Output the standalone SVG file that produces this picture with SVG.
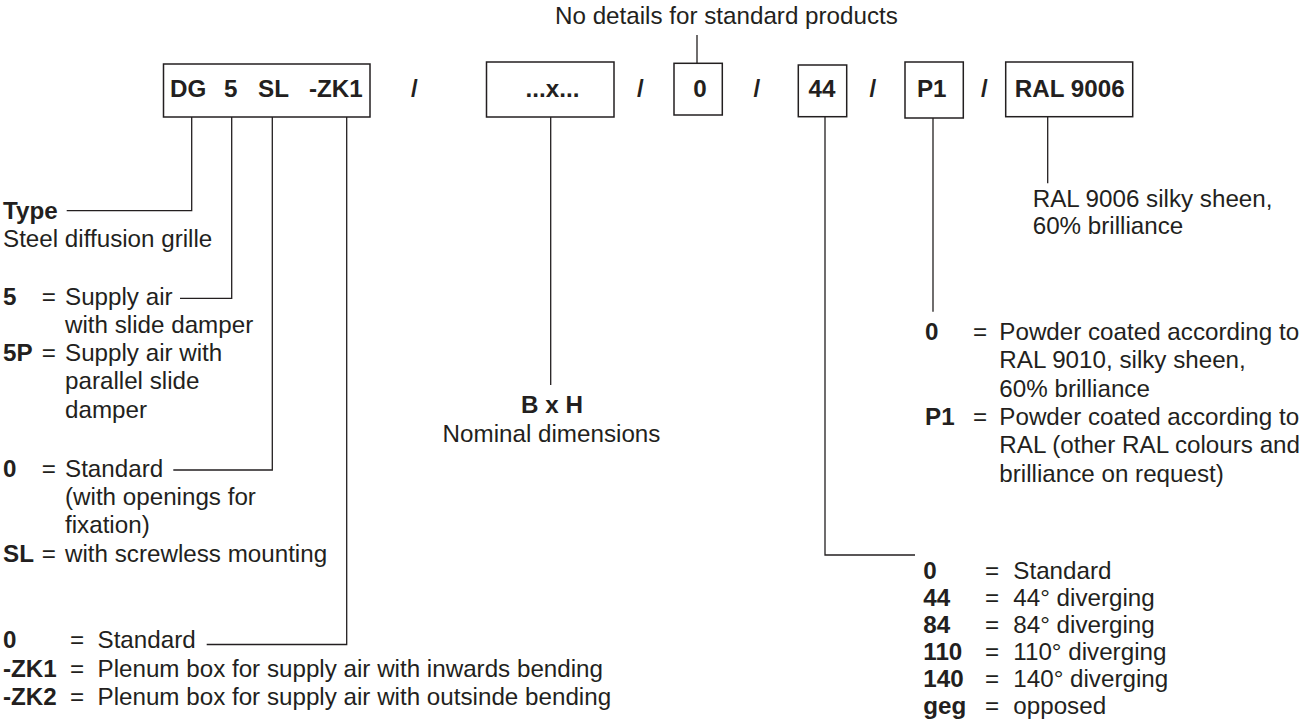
<svg xmlns="http://www.w3.org/2000/svg" width="1302" height="720" viewBox="0 0 1302 720">
<style>
text{font-family:"Liberation Sans",Arial,Helvetica,sans-serif;font-size:24.2px;fill:#231f20}
.b{font-weight:bold}
.m{text-anchor:middle}
.box{fill:#fff;stroke:#231f20;stroke-width:1.5}
.ln{fill:none;stroke:#231f20;stroke-width:1.3}
</style>
<rect width="1302" height="720" fill="#fff"/>
<g id="connectors">
<polyline class="ln" points="191.7,117 191.7,210.7 66.7,210.7"/>
<polyline class="ln" points="231.7,117 231.7,298.3 180,298.3"/>
<polyline class="ln" points="272.3,117 272.3,470 173.3,470"/>
<polyline class="ln" points="346.7,117 346.7,644.5 206.7,644.5"/>
<line class="ln" x1="550.7" y1="117" x2="550.7" y2="385"/>
<line class="ln" x1="697" y1="35" x2="697" y2="63"/>
<polyline class="ln" points="825,117 825,555 915,555"/>
<line class="ln" x1="933" y1="118" x2="933" y2="311.7"/>
<line class="ln" x1="1047.7" y1="117" x2="1047.7" y2="183.3"/>
</g>
<g id="code-type">
<rect class="box" x="163.5" y="64" width="206.5" height="53"/>
<text class="b" x="170" y="96.7">DG</text>
<text class="b" x="224" y="96.7">5</text>
<text class="b" x="258" y="96.7">SL</text>
<text class="b" x="309" y="96.7">-ZK1</text>
</g>
<text class="b" x="411" y="96.7">/</text>
<g id="code-size">
<rect class="box" x="486.5" y="62" width="127.5" height="55"/>
<text class="b m" x="552.5" y="96.7">...x...</text>
</g>
<text class="b" x="637" y="96.7">/</text>
<g id="code-zero">
<rect class="box" x="674" y="63.3" width="48.3" height="51.7"/>
<text class="b m" x="700" y="96.7">0</text>
</g>
<text class="b" x="753.5" y="96.7">/</text>
<g id="code-44">
<rect class="box" x="798.3" y="65" width="48.4" height="51.7"/>
<text class="b m" x="822" y="96.7">44</text>
</g>
<text class="b" x="869.5" y="96.7">/</text>
<g id="code-p1">
<rect class="box" x="905" y="62" width="58.3" height="56"/>
<text class="b m" x="931.7" y="96.7">P1</text>
</g>
<text class="b" x="981" y="96.7">/</text>
<g id="code-ral">
<rect class="box" x="1005.7" y="62" width="127" height="54.7"/>
<text class="b m" x="1069.7" y="96.7">RAL 9006</text>
</g>
<g id="note-standard">
<text x="555" y="23.5">No details for standard products</text>
</g>
<g id="desc-type">
<text class="b" x="3" y="219.3">Type</text>
<text x="3" y="246.7">Steel diffusion grille</text>
</g>
<g id="desc-5">
<text class="b" x="3" y="304.5">5</text>
<text x="41.7" y="304.5">=</text>
<text x="65" y="304.5">Supply air<tspan x="65" dy="28.3">with slide damper</tspan></text>
<text class="b" x="3" y="361">5P</text>
<text x="41.7" y="361">=</text>
<text x="65" y="361">Supply air with<tspan x="65" dy="28.3">parallel slide</tspan><tspan x="65" dy="28.3">damper</tspan></text>
</g>
<g id="desc-sl">
<text class="b" x="3" y="476.7">0</text>
<text x="41.7" y="476.7">=</text>
<text x="65" y="476.7">Standard<tspan x="65" dy="28.3">(with openings for</tspan><tspan x="65" dy="28.3">fixation)</tspan></text>
<text class="b" x="3" y="561.7">SL</text>
<text x="41.7" y="561.7">=</text>
<text x="65" y="561.7">with screwless mounting</text>
</g>
<g id="desc-zk">
<text class="b" x="3" y="648.3">0</text>
<text x="70" y="648.3">=</text>
<text x="97.5" y="648.3">Standard</text>
<text class="b" x="3" y="676.7">-ZK1</text>
<text x="70" y="676.7">=</text>
<text x="97.5" y="676.7">Plenum box for supply air with inwards bending</text>
<text class="b" x="3" y="705">-ZK2</text>
<text x="70" y="705">=</text>
<text x="97.5" y="705">Plenum box for supply air with outsinde bending</text>
</g>
<g id="desc-size">
<text class="b m" x="552" y="412.7">B x H</text>
<text class="m" x="551.5" y="441.7">Nominal dimensions</text>
</g>
<g id="desc-ral">
<text x="1032.7" y="206.7">RAL 9006 silky sheen,<tspan x="1032.7" dy="27.3">60% brilliance</tspan></text>
</g>
<g id="desc-coating">
<text class="b" x="925" y="340">0</text>
<text x="973" y="340">=</text>
<text x="999.3" y="340">Powder coated according to<tspan x="999.3" dy="28.3">RAL 9010, silky sheen,</tspan><tspan x="999.3" dy="28.3">60% brilliance</tspan></text>
<text class="b" x="925" y="425">P1</text>
<text x="973" y="425">=</text>
<text x="999.3" y="425">Powder coated according to<tspan x="999.3" dy="28.3">RAL (other RAL colours and</tspan><tspan x="999.3" dy="28.3">brilliance on request)</tspan></text>
</g>
<g id="desc-deflection">
<text class="b" x="923.3" y="579">0</text>
<text x="985" y="579">=</text>
<text x="1013.3" y="579">Standard</text>
<text class="b" x="923.3" y="606">44</text>
<text x="985" y="606">=</text>
<text x="1013.3" y="606">44° diverging</text>
<text class="b" x="923.3" y="633">84</text>
<text x="985" y="633">=</text>
<text x="1013.3" y="633">84° diverging</text>
<text class="b" x="923.3" y="660">110</text>
<text x="985" y="660">=</text>
<text x="1013.3" y="660">110° diverging</text>
<text class="b" x="923.3" y="687">140</text>
<text x="985" y="687">=</text>
<text x="1013.3" y="687">140° diverging</text>
<text class="b" x="923.3" y="714">geg</text>
<text x="985" y="714">=</text>
<text x="1013.3" y="714">opposed</text>
</g>
</svg>
